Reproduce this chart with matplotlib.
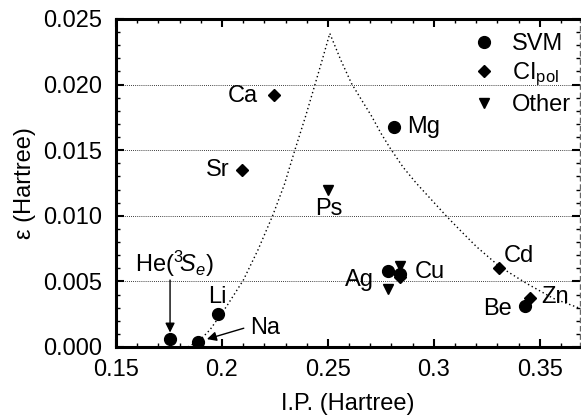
import matplotlib
matplotlib.use("Agg")
import matplotlib.pyplot as plt
import numpy as np

plt.rcParams['font.family'] = ['Liberation Sans', 'DejaVu Sans']
plt.rcParams['mathtext.fontset'] = 'custom'
plt.rcParams['mathtext.rm'] = 'Liberation Sans'
plt.rcParams['mathtext.it'] = 'Liberation Sans:italic'

# data (I.P., epsilon) in Hartree
svm_names = ['He', 'Na', 'Li', 'Mg', 'Ag', 'Cu', 'Be']
svm_ip = [0.1755, 0.1888, 0.1982, 0.2813, 0.2784, 0.2840, 0.3430]
svm_eps = [0.0006, 0.0004, 0.0025, 0.0168, 0.0058, 0.0056, 0.0031]

ci_names = ['Ca', 'Sr', 'Cu', 'Cd', 'Zn']
ci_ip = [0.2245, 0.2095, 0.2840, 0.3307, 0.3456]
ci_eps = [0.0192, 0.0135, 0.0053, 0.0060, 0.0037]

oth_names = ['Ps', 'Ag', 'Cu']
oth_ip = [0.2501, 0.2784, 0.2840]
oth_eps = [0.0120, 0.0044, 0.0062]

# dotted curve
curve_ip = [0.1840, 0.1896, 0.1943, 0.2022, 0.2101, 0.2170, 0.2239, 0.2295,
            0.2344, 0.2395, 0.2439, 0.2470, 0.2509, 0.2560, 0.2611, 0.2660, 0.2706,
            0.2750, 0.2792, 0.2855, 0.2918, 0.2990, 0.3059, 0.3130, 0.3201, 0.3311,
            0.3437, 0.3563, 0.3689]
curve_eps = [0.0000, 0.00053, 0.0013, 0.0031, 0.0051, 0.0074, 0.0100, 0.0124,
             0.0150, 0.0176, 0.0200, 0.0217, 0.0239, 0.0219, 0.0201, 0.0188, 0.0176,
             0.0163, 0.0152, 0.0137, 0.01247, 0.0112, 0.00998, 0.0088, 0.00765, 0.00612,
             0.00485, 0.00371, 0.00295]

fs = 17
fig = plt.figure(figsize=(5.81, 4.18), dpi=100)
ax = fig.add_axes([0.1997, 0.1699, 0.7986, 0.7847])

ax.plot(curve_ip, curve_eps, color='black', linestyle=(0, (1, 2)), linewidth=1.0, zorder=2)

ax.plot(svm_ip, svm_eps, 'o', color='black', markersize=8.5, linestyle='none', label='SVM', zorder=4)
ax.plot(ci_ip, ci_eps, 'D', color='black', markersize=6, linestyle='none', label=r'CI$_{\mathrm{pol}}$', zorder=4)
ax.plot(oth_ip, oth_eps, 'v', color='black', markersize=7.5, linestyle='none', label='Other', zorder=4)

ax.set_xlim(0.15, 0.369)
ax.set_ylim(0.0, 0.025)
ax.set_xticks([0.15, 0.2, 0.25, 0.3, 0.35])
ax.set_xticklabels(['0.15', '0.2', '0.25', '0.3', '0.35'])
ax.set_yticks([0.0, 0.005, 0.010, 0.015, 0.020, 0.025])
ax.set_yticklabels(['0.000', '0.005', '0.010', '0.015', '0.020', '0.025'])
ax.set_xticks(np.arange(0.15, 0.37, 0.01), minor=True)
ax.set_yticks(np.arange(0.0, 0.0251, 0.001), minor=True)

ax.yaxis.grid(True, which='major', color='black', linestyle=(0, (1, 1.5)), linewidth=0.6)
ax.tick_params(axis='both', which='major', direction='in', length=6, width=1.5,
               top=True, right=True, labelsize=fs)
ax.tick_params(axis='x', which='major', pad=9)
ax.tick_params(axis='y', which='major', pad=10)
ax.tick_params(axis='both', which='minor', direction='in', length=3, width=1.0,
               top=True, right=True)

for s in ['left', 'bottom', 'top']:
    ax.spines[s].set_linewidth(2.2)
ax.spines['right'].set_linewidth(1.0)
ax.spines['right'].set_linestyle((0, (3, 3)))
ax.spines['right'].set_color('0.4')

ax.set_xlabel('I.P. (Hartree)', fontsize=fs, labelpad=8)
ax.set_ylabel('ε (Hartree)', fontsize=fs, labelpad=5)

# point labels
ax.text(0.2170, 0.0191, 'Ca', ha='right', va='center', fontsize=fs)
ax.text(0.2038, 0.0135, 'Sr', ha='right', va='center', fontsize=fs)
ax.text(0.2873, 0.0168, 'Mg', ha='left', va='center', fontsize=fs)
ax.text(0.2502, 0.0105, 'Ps', ha='center', va='center', fontsize=fs)
ax.text(0.1980, 0.0038, 'Li', ha='center', va='center', fontsize=fs)
ax.text(0.2717, 0.0051, 'Ag', ha='right', va='center', fontsize=fs)
ax.text(0.2910, 0.0057, 'Cu', ha='left', va='center', fontsize=fs)
ax.text(0.3330, 0.0069, 'Cd', ha='left', va='center', fontsize=fs)
ax.text(0.3509, 0.0038, 'Zn', ha='left', va='center', fontsize=fs)
ax.text(0.3368, 0.0029, 'Be', ha='right', va='center', fontsize=fs)
ax.text(0.1774, 0.0063, r'He($^{3}\!S_e$)', ha='center', va='center', fontsize=fs)
ax.text(0.2132, 0.00145, 'Na', ha='left', va='center', fontsize=fs)

arrow = dict(arrowstyle='-|>', color='black', lw=1.0, shrinkA=0, shrinkB=0,
             mutation_scale=14)
ax.annotate('', xy=(0.1755, 0.0011), xytext=(0.1755, 0.0051), arrowprops=arrow)
ax.annotate('', xy=(0.1929, 0.0006), xytext=(0.2103, 0.00143), arrowprops=arrow)

leg = ax.legend(loc='upper right', frameon=False, fontsize=fs, handlelength=1.0,
                handletextpad=0.7, labelspacing=0.25, borderaxespad=0.2,
                bbox_to_anchor=(1.012, 1.0))

fig.savefig('out.png', dpi=100)
